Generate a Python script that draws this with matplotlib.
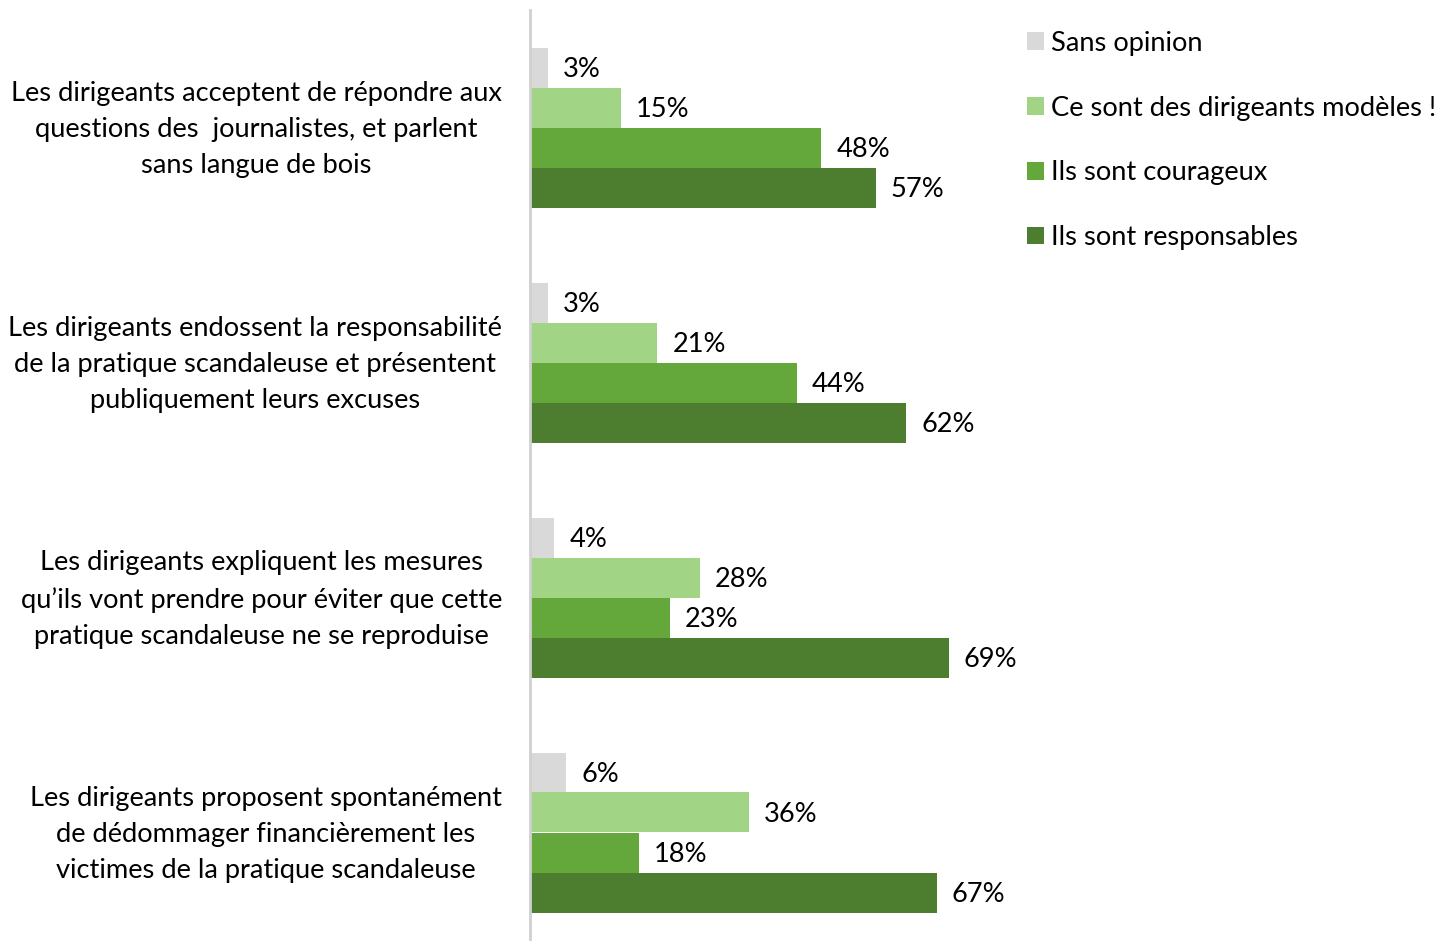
import matplotlib.pyplot as plt
import numpy as np

plt.rcParams['font.family'] = ['Lato', 'DejaVu Sans']

categories = [
    "Les dirigeants acceptent de répondre aux\nquestions des  journalistes, et parlent\nsans langue de bois",
    "Les dirigeants endossent la responsabilité\nde la pratique scandaleuse et présentent\npubliquement leurs excuses",
    "Les dirigeants expliquent les mesures\nqu’ils vont prendre pour éviter que cette\npratique scandaleuse ne se reproduise",
    "Les dirigeants proposent spontanément\nde dédommager financièrement les\nvictimes de la pratique scandaleuse",
]
series_names = ["Sans opinion", "Ce sont des dirigeants modèles !",
                "Ils sont courageux", "Ils sont responsables"]
sans_opinion = [3, 3, 4, 6]
modeles = [15, 21, 28, 36]
courageux = [48, 44, 23, 18]
responsables = [57, 62, 69, 67]
colors = ['#D9D9D9', '#A2D486', '#64A83C', '#4D7D2E']

FS = 19.6
W, H = 1451, 941
fig = plt.figure(figsize=(W / 100, H / 100), dpi=100)
# axes spans from x=530px to right edge, y=10px to bottom
ax = fig.add_axes([530 / W, 0, 1 - 530 / W, (H - 10) / H])

pitch = 235.0
h = 40 / pitch
y = np.arange(len(categories))
values = [sans_opinion, modeles, courageux, responsables]
for i, (name, vals, col) in enumerate(zip(series_names, values, colors)):
    pos = y + (i - 1.5) * h
    ax.barh(pos, vals, height=h, color=col, label=name)
    for p, v in zip(pos, vals):
        ax.annotate(f"{v}%", (v, p), xytext=(15, -2), textcoords='offset pixels',
                    va='center', ha='left', fontsize=FS)

ax.set_xlim(0, (W - 530) / 6.07)
ax.set_ylim((H - 127.5) / pitch, -0.5)

for s in ['top', 'right', 'bottom']:
    ax.spines[s].set_visible(False)
ax.spines['left'].set_color('#D0D0D0')
ax.spines['left'].set_linewidth(2)
ax.set_xticks([])
ax.set_yticks([])

for yi, lab in zip(y, categories):
    ax.annotate(lab, (0, yi), xytext=(-28, -2), textcoords='offset pixels',
                ha='right', va='center', multialignment='center',
                fontsize=FS, linespacing=1.55, annotation_clip=False)

handles, labels = ax.get_legend_handles_labels()
fig.legend(handles, labels, loc='upper left', bbox_to_anchor=(1016 / W, 1 - 20 / H),
           frameon=False, fontsize=FS, handlelength=0.62, handleheight=0.62,
           handletextpad=0.25, labelspacing=1.46, borderaxespad=0)

fig.savefig('out.png', dpi=100)
